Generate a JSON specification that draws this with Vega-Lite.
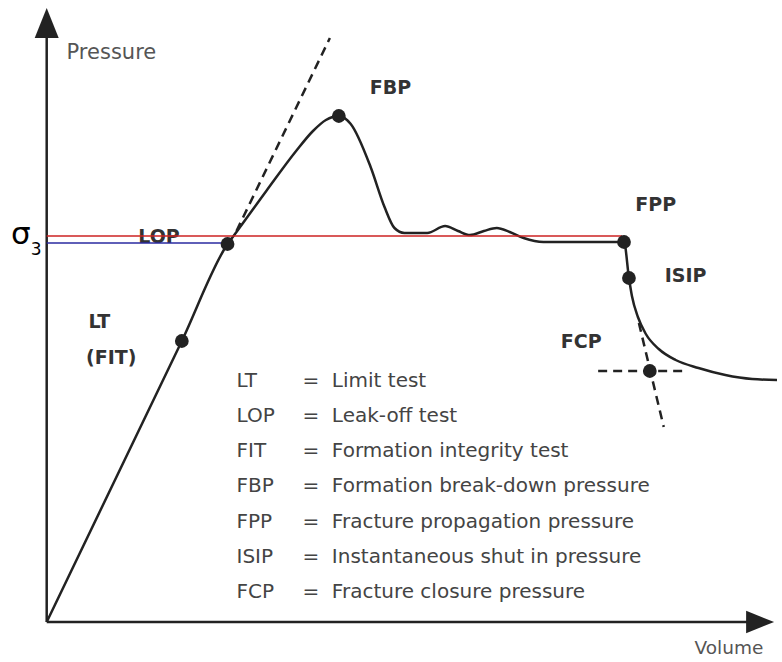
{
  "$schema": "https://vega.github.io/schema/vega-lite/v6.json",
  "width": 782,
  "height": 662,
  "padding": 0,
  "autosize": {"type": "fit", "contains": "padding"},
  "background": "white",
  "config": {"view": {"stroke": null}},
  "datasets": {
    "curve": [
      {"x": 47, "y": 40, "o": 1},
      {"x": 183, "y": 321, "o": 2},
      {"x": 229, "y": 418, "o": 3},
      {"x": 238, "y": 430, "o": 4},
      {"x": 268, "y": 471, "o": 5},
      {"x": 298, "y": 511, "o": 6},
      {"x": 315, "y": 531, "o": 7},
      {"x": 328, "y": 542, "o": 8},
      {"x": 341, "y": 546, "o": 9},
      {"x": 353, "y": 538, "o": 10},
      {"x": 373, "y": 495, "o": 11},
      {"x": 387, "y": 455, "o": 12},
      {"x": 397, "y": 434, "o": 13},
      {"x": 407, "y": 429, "o": 14},
      {"x": 430, "y": 429, "o": 15},
      {"x": 448, "y": 436, "o": 16},
      {"x": 461, "y": 431, "o": 17},
      {"x": 473, "y": 427, "o": 18},
      {"x": 487, "y": 431, "o": 19},
      {"x": 500, "y": 434, "o": 20},
      {"x": 513, "y": 430, "o": 21},
      {"x": 527, "y": 424, "o": 22},
      {"x": 547, "y": 420, "o": 23},
      {"x": 613, "y": 420, "o": 24},
      {"x": 628, "y": 420, "o": 25},
      {"x": 633, "y": 384, "o": 26},
      {"x": 636, "y": 366, "o": 27},
      {"x": 642, "y": 345, "o": 28},
      {"x": 650, "y": 328, "o": 29},
      {"x": 663, "y": 313, "o": 30},
      {"x": 680, "y": 302, "o": 31},
      {"x": 703, "y": 294, "o": 32},
      {"x": 730, "y": 287, "o": 33},
      {"x": 757, "y": 283, "o": 34},
      {"x": 782, "y": 282, "o": 35}
    ],
    "segs": [
      {"kind": "axis", "x": 47, "y": 40, "x2": 47, "y2": 627},
      {"kind": "axis", "x": 47, "y": 40, "x2": 752, "y2": 40},
      {"kind": "red", "x": 47, "y": 426, "x2": 626, "y2": 426},
      {"kind": "blue", "x": 47, "y": 419, "x2": 228, "y2": 419},
      {"kind": "dash", "x": 238, "y": 431, "x2": 332, "y2": 624},
      {"kind": "dash", "x": 602, "y": 291, "x2": 692, "y2": 291},
      {"kind": "dash", "x": 643, "y": 339, "x2": 668, "y2": 235}
    ],
    "arrows": [
      {"dir": "up", "x": 47, "y": 639},
      {"dir": "right", "x": 765, "y": 40}
    ],
    "points": [
      {"name": "LT", "x": 183, "y": 321},
      {"name": "LOP", "x": 229, "y": 418},
      {"name": "FBP", "x": 341, "y": 546},
      {"name": "FPP", "x": 628, "y": 420},
      {"name": "ISIP", "x": 633, "y": 384},
      {"name": "FCP", "x": 654, "y": 291}
    ],
    "labels": [
      {"label": "FBP", "x": 393, "y": 574},
      {"label": "LOP", "x": 160, "y": 425},
      {"label": "FPP", "x": 660, "y": 457},
      {"label": "ISIP", "x": 690, "y": 386},
      {"label": "LT", "x": 100, "y": 340},
      {"label": "(FIT)", "x": 112, "y": 304},
      {"label": "FCP", "x": 585, "y": 320}
    ],
    "axislabels": [
      {"label": "Pressure", "x": 67, "y": 609, "size": "big"},
      {"label": "Volume", "x": 699, "y": 14, "size": "small"}
    ],
    "sigma": [
      {"label": "σ", "x": 11, "y": 418, "size": "big"},
      {"label": "3", "x": 31, "y": 407, "size": "small"}
    ],
    "legend": [
      {"abbr": "LT", "def": "Limit test", "eq": "=", "xa": 238, "xe": 313, "xd": 334, "y": 281},
      {"abbr": "LOP", "def": "Leak-off test", "eq": "=", "xa": 238, "xe": 313, "xd": 334, "y": 246},
      {"abbr": "FIT", "def": "Formation integrity test", "eq": "=", "xa": 238, "xe": 313, "xd": 334, "y": 211},
      {"abbr": "FBP", "def": "Formation break-down pressure", "eq": "=", "xa": 238, "xe": 313, "xd": 334, "y": 176},
      {"abbr": "FPP", "def": "Fracture propagation pressure", "eq": "=", "xa": 238, "xe": 313, "xd": 334, "y": 140},
      {"abbr": "ISIP", "def": "Instantaneous shut in pressure", "eq": "=", "xa": 238, "xe": 313, "xd": 334, "y": 105},
      {"abbr": "FCP", "def": "Fracture closure pressure", "eq": "=", "xa": 238, "xe": 313, "xd": 334, "y": 70}
    ]
  },
  "encoding": {
    "y": {"field": "y", "type": "quantitative", "scale": {"domain": [0, 662], "nice": false, "zero": false}, "axis": null}
  },
  "layer": [
    {
      "data": {"name": "segs"},
      "transform": [{"filter": "datum.kind === 'axis'"}],
      "mark": {"type": "rule", "stroke": "#222222", "strokeWidth": 2.5},
      "encoding": {"x": {"field": "x", "type": "quantitative", "scale": {"domain": [0, 782], "nice": false, "zero": false}, "axis": null}, "x2": {"field": "x2"}, "y2": {"field": "y2"}}
    },
    {
      "data": {"name": "arrows"},
      "transform": [{"filter": "datum.dir === 'up'"}],
      "mark": {"type": "point", "shape": "M0,-1L-0.8,1L0.8,1Z", "size": 900, "filled": true, "fill": "#222222", "opacity": 1, "strokeWidth": 0},
      "encoding": {"x": {"field": "x", "type": "quantitative"}}
    },
    {
      "data": {"name": "arrows"},
      "transform": [{"filter": "datum.dir === 'right'"}],
      "mark": {"type": "point", "shape": "M1,0L-1,-0.8L-1,0.8Z", "size": 784, "filled": true, "fill": "#222222", "opacity": 1, "strokeWidth": 0},
      "encoding": {"x": {"field": "x", "type": "quantitative"}}
    },
    {
      "data": {"name": "segs"},
      "transform": [{"filter": "datum.kind === 'dash'"}],
      "mark": {"type": "rule", "stroke": "#222222", "strokeWidth": 2.5, "strokeDash": [9, 6]},
      "encoding": {"x": {"field": "x", "type": "quantitative"}, "x2": {"field": "x2"}, "y2": {"field": "y2"}}
    },
    {
      "data": {"name": "curve"},
      "mark": {"type": "line", "stroke": "#222222", "strokeWidth": 2.5, "interpolate": "monotone"},
      "encoding": {"x": {"field": "x", "type": "quantitative"}, "order": {"field": "o", "type": "quantitative"}}
    },
    {
      "data": {"name": "labels"},
      "mark": {"type": "text", "font": "DejaVu Sans", "fontWeight": "bold", "fontSize": 19, "fill": "#333333", "align": "center", "baseline": "middle"},
      "encoding": {"x": {"field": "x", "type": "quantitative"}, "text": {"field": "label"}}
    },
    {
      "data": {"name": "segs"},
      "transform": [{"filter": "datum.kind === 'red'"}],
      "mark": {"type": "rule", "stroke": "#cc2222", "strokeWidth": 1.6},
      "encoding": {"x": {"field": "x", "type": "quantitative"}, "x2": {"field": "x2"}, "y2": {"field": "y2"}}
    },
    {
      "data": {"name": "segs"},
      "transform": [{"filter": "datum.kind === 'blue'"}],
      "mark": {"type": "rule", "stroke": "#2a2aa0", "strokeWidth": 1.6},
      "encoding": {"x": {"field": "x", "type": "quantitative"}, "x2": {"field": "x2"}, "y2": {"field": "y2"}}
    },
    {
      "data": {"name": "points"},
      "mark": {"type": "point", "shape": "circle", "size": 190, "filled": true, "fill": "#222222", "opacity": 1, "strokeWidth": 0},
      "encoding": {"x": {"field": "x", "type": "quantitative"}}
    },
    {
      "data": {"name": "axislabels"},
      "transform": [{"filter": "datum.size === 'big'"}],
      "mark": {"type": "text", "font": "DejaVu Sans", "fontSize": 21, "fill": "#555555", "align": "left", "baseline": "middle"},
      "encoding": {"x": {"field": "x", "type": "quantitative"}, "text": {"field": "label"}}
    },
    {
      "data": {"name": "axislabels"},
      "transform": [{"filter": "datum.size === 'small'"}],
      "mark": {"type": "text", "font": "DejaVu Sans", "fontSize": 18.5, "fill": "#555555", "align": "left", "baseline": "middle"},
      "encoding": {"x": {"field": "x", "type": "quantitative"}, "text": {"field": "label"}}
    },
    {
      "data": {"name": "sigma"},
      "transform": [{"filter": "datum.size === 'big'"}],
      "mark": {"type": "text", "font": "DejaVu Sans", "fontSize": 31, "fill": "#000000", "align": "left", "baseline": "alphabetic"},
      "encoding": {"x": {"field": "x", "type": "quantitative"}, "text": {"field": "label"}}
    },
    {
      "data": {"name": "sigma"},
      "transform": [{"filter": "datum.size === 'small'"}],
      "mark": {"type": "text", "font": "DejaVu Sans", "fontSize": 17, "fill": "#000000", "align": "left", "baseline": "alphabetic"},
      "encoding": {"x": {"field": "x", "type": "quantitative"}, "text": {"field": "label"}}
    },
    {
      "data": {"name": "legend"},
      "mark": {"type": "text", "font": "DejaVu Sans", "fontSize": 20, "fill": "#444444", "align": "left", "baseline": "middle"},
      "encoding": {"x": {"field": "xa", "type": "quantitative"}, "text": {"field": "abbr"}}
    },
    {
      "data": {"name": "legend"},
      "mark": {"type": "text", "font": "DejaVu Sans", "fontSize": 20, "fill": "#444444", "align": "center", "baseline": "middle"},
      "encoding": {"x": {"field": "xe", "type": "quantitative"}, "text": {"field": "eq"}}
    },
    {
      "data": {"name": "legend"},
      "mark": {"type": "text", "font": "DejaVu Sans", "fontSize": 20, "fill": "#444444", "align": "left", "baseline": "middle"},
      "encoding": {"x": {"field": "xd", "type": "quantitative"}, "text": {"field": "def"}}
    }
  ]
}
